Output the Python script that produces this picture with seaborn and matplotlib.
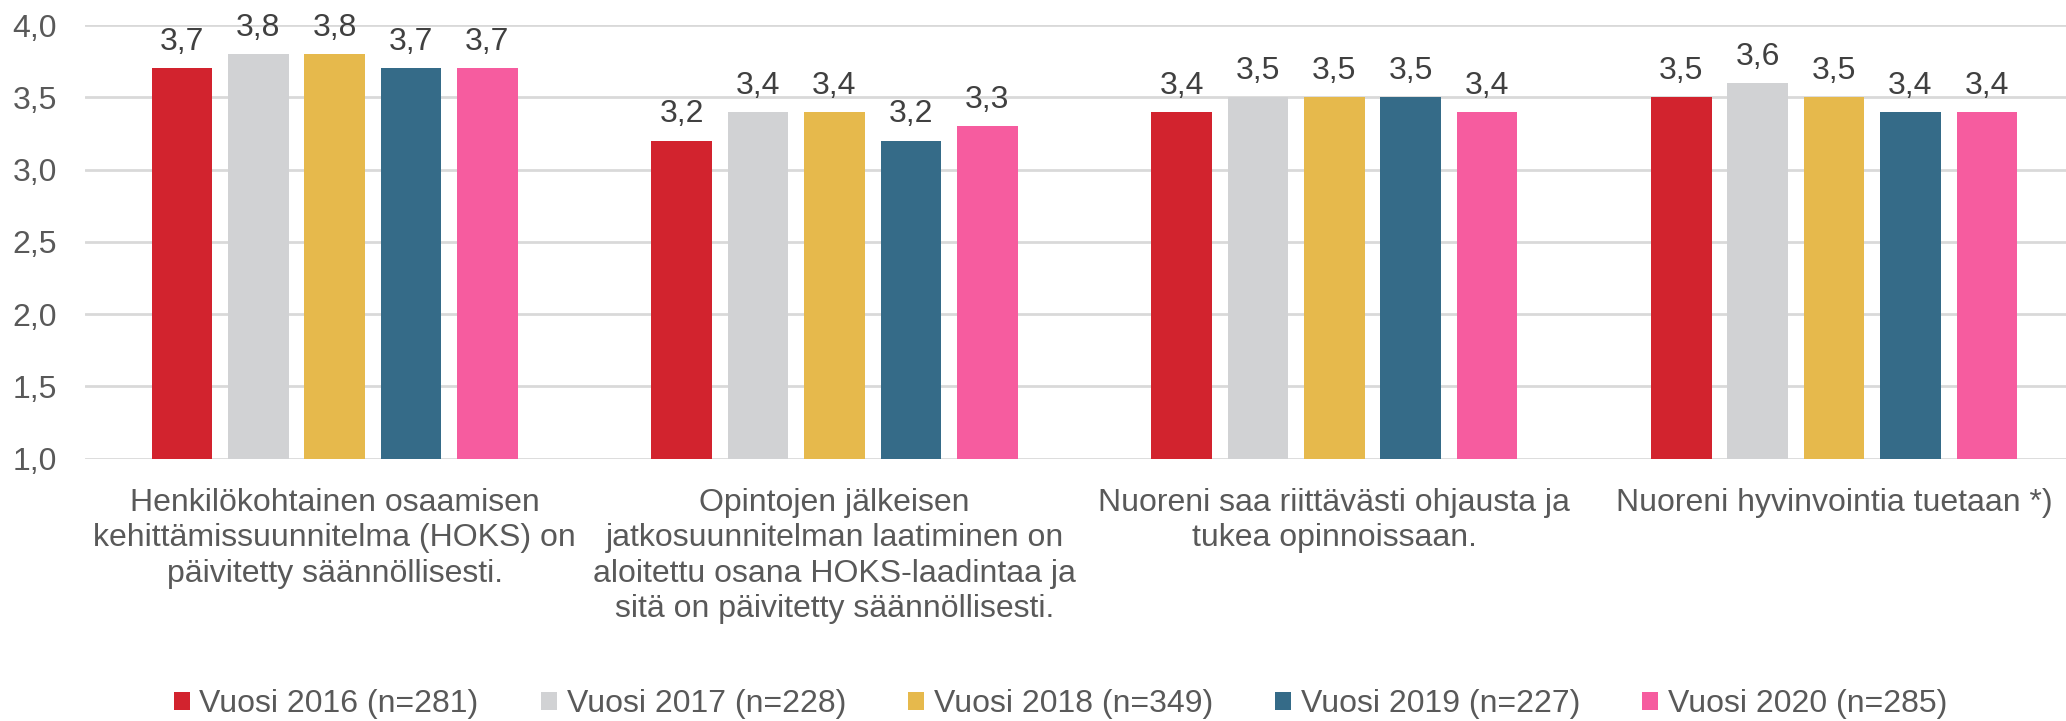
import matplotlib
matplotlib.use("Agg")
import matplotlib.pyplot as plt
import seaborn as sns
import pandas as pd

categories = [
    "Henkilökohtainen osaamisen\nkehittämissuunnitelma (HOKS) on\npäivitetty säännöllisesti.",
    "Opintojen jälkeisen\njatkosuunnitelman laatiminen on\naloitettu osana HOKS-laadintaa ja\nsitä on päivitetty säännöllisesti.",
    "Nuoreni saa riittävästi ohjausta ja\ntukea opinnoissaan.",
    "Nuoreni hyvinvointia tuetaan *)",
]
series_names = [
    "Vuosi 2016 (n=281)",
    "Vuosi 2017 (n=228)",
    "Vuosi 2018 (n=349)",
    "Vuosi 2019 (n=227)",
    "Vuosi 2020 (n=285)",
]
v2016 = [3.7, 3.2, 3.4, 3.5]
v2017 = [3.8, 3.4, 3.5, 3.6]
v2018 = [3.8, 3.4, 3.5, 3.5]
v2019 = [3.7, 3.2, 3.5, 3.4]
v2020 = [3.7, 3.3, 3.4, 3.4]
colors = ["#D2232E", "#D1D2D4", "#E6B94C", "#356B88", "#F65C9F"]
yticks = [1.0, 1.5, 2.0, 2.5, 3.0, 3.5, 4.0]

rows = []
for name, vals in zip(series_names, [v2016, v2017, v2018, v2019, v2020]):
    for c, v in zip(categories, vals):
        rows.append({"cat": c, "series": name, "value": v})
df = pd.DataFrame(rows)

sns.set_theme(style="white")
plt.rcParams["font.family"] = ["Liberation Sans", "DejaVu Sans"]

FS = 23
fig = plt.figure(figsize=(20.66, 7.21), dpi=100)
ax = fig.add_axes([85 / 2066, 1 - 458.5 / 721, 1 - 85 / 2066, (458.5 - 25) / 721])

sns.barplot(data=df, x="cat", y="value", hue="series", palette=colors,
            width=0.764, gap=0.207, ax=ax, legend=True, saturation=1,
            edgecolor="none", linewidth=0)

for cont in ax.containers:
    ax.bar_label(cont, labels=[f"{b.get_height():.1f}".replace(".", ",") for b in cont],
                 padding=8, fontsize=FS, color="#404040")

ax.set_ylim(1.0, 4.0)
ax.set_yticks(yticks)
ax.set_yticklabels([f"{t:.1f}".replace(".", ",") for t in yticks])
ax.set_xlim(-0.4996, 3.464)
ax.yaxis.grid(True, color="#D9D9D9", linewidth=2)
ax.set_axisbelow(True)
for s in ax.spines.values():
    s.set_visible(False)
ax.tick_params(axis="y", length=0, labelsize=FS, labelcolor="#595959", pad=20)
ax.tick_params(axis="x", length=0, labelsize=FS, labelcolor="#595959", pad=21)
for lab in ax.get_xticklabels():
    lab.set_linespacing(1.24)
ax.set_xlabel("")
ax.set_ylabel("")

handles, labels = ax.get_legend_handles_labels()
ax.get_legend().remove()
fig.legend(handles, labels, loc="center", bbox_to_anchor=(0.5133, 0.0236), ncol=5,
           frameon=False, fontsize=FS, labelcolor="#595959",
           handlelength=0.5, handleheight=0.5, handletextpad=0.31, columnspacing=1.94)

fig.savefig("out.png", dpi=100)
